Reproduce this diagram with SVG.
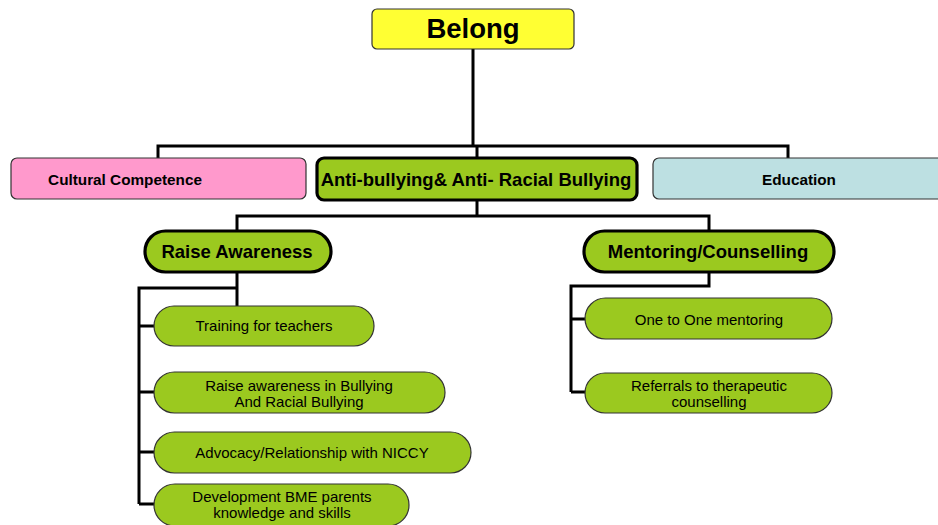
<svg xmlns="http://www.w3.org/2000/svg" width="938" height="525" viewBox="0 0 938 525">
<style>
text{font-family:"Liberation Sans",Arial,sans-serif;fill:#000;text-anchor:middle}
.b{font-weight:bold}
.r{font-size:15px}
.thin{stroke:#333;stroke-width:1.2}
.thick{stroke:#000;stroke-width:3.2}
.g{fill:#9BC91F}
.c{fill:none;stroke:#000;stroke-width:3}
</style>
<rect width="938" height="525" fill="#fff"/>
<g id="connectors">
<path class="c" d="M473 49V146M158 158V146H788V158M477 146V158"/>
<path class="c" d="M477 200V216M237 231V216H709V231"/>
<path class="c" d="M237 272V306M237 288H139V504M139 326H155M139 392H155M139 452H155M139 504H155"/>
<path class="c" d="M709 272V286H571V392M571 319H586M571 392H586"/>
</g>
<g id="belong"><rect x="372" y="9" width="202" height="40" rx="5" fill="#FFFF33" class="thin"/><text x="473" y="38" class="b" font-size="27.5">Belong</text></g>
<g id="cultural"><rect x="11" y="158" width="295" height="41" rx="6" fill="#FF99CC" class="thin"/><text x="125" y="185" class="b" font-size="15.3">Cultural Competence</text></g>
<g id="antibullying"><rect x="317" y="158" width="320" height="42" rx="7" class="g thick"/><text x="476" y="186" class="b" font-size="18.5">Anti-bullying&amp; Anti- Racial Bullying</text></g>
<g id="education"><rect x="653" y="158" width="300" height="41" rx="6" fill="#BDE0E2" class="thin"/><text x="799" y="185" class="b" font-size="15.3">Education</text></g>
<g id="raise"><rect x="145" y="231" width="186" height="41" rx="20.5" class="g thick"/><text x="237" y="258" class="b" font-size="18.5">Raise Awareness</text></g>
<g id="mentoring"><rect x="584" y="231" width="250" height="41" rx="20.5" class="g thick"/><text x="708" y="258" class="b" font-size="18.5">Mentoring/Counselling</text></g>
<g id="training"><rect x="154" y="306" width="220" height="40" rx="20" class="g thin"/><text x="264" y="331" class="r">Training for teachers</text></g>
<g id="raiseaw"><rect x="154" y="372" width="291" height="41" rx="20.5" class="g thin"/><text x="299" y="391" class="r">Raise awareness in Bullying</text><text x="299" y="407" class="r">And Racial Bullying</text></g>
<g id="advocacy"><rect x="154" y="432" width="317" height="41" rx="20.5" class="g thin"/><text x="312" y="458" class="r">Advocacy/Relationship with NICCY</text></g>
<g id="development"><rect x="154" y="484" width="255" height="42" rx="21" class="g thin"/><text x="282" y="502" class="r">Development BME parents</text><text x="282" y="518" class="r">knowledge and skills</text></g>
<g id="onetoone"><rect x="585" y="298" width="247" height="41" rx="20.5" class="g thin"/><text x="709" y="325" class="r">One to One mentoring</text></g>
<g id="referrals"><rect x="585" y="373" width="247" height="40" rx="20" class="g thin"/><text x="709" y="391" class="r">Referrals to therapeutic</text><text x="709" y="407" class="r">counselling</text></g>
</svg>
